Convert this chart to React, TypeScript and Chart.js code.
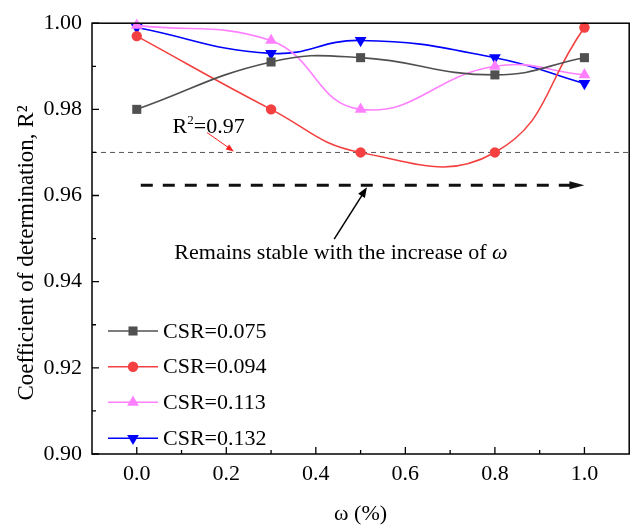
import React, { useEffect, useRef } from 'react';
import { Chart, registerables } from 'chart.js';

Chart.register(...registerables);

// ---- data ----
const omegaValues = [0, 0.3, 0.5, 0.8, 1.0];
const csr075 = [0.98, 0.991, 0.992, 0.988, 0.992];
const csr094 = [0.997, 0.98, 0.97, 0.97, 0.999];
const csr113 = [0.9995, 0.996, 0.98, 0.99, 0.988];
const csr132 = [0.999, 0.993, 0.996, 0.992, 0.986];
const seriesLabels = ['CSR=0.075', 'CSR=0.094', 'CSR=0.113', 'CSR=0.132'];
const xTickValues = [0, 0.2, 0.4, 0.6, 0.8, 1.0];
const yTickValues = [0.9, 0.92, 0.94, 0.96, 0.98, 1.0];
const xRange = [-0.1, 1.1];
const yRange = [0.9, 1.0];
const thresholdR2 = 0.97;
const trendArrow = { x0: 0.009, x1: 1.0, y: 0.9624 };
const r2Label = { x: 0.08, y: 0.9746 };
const r2Arrow = { x0: 0.157, y0: 0.9746, x1: 0.217, y1: 0.9702 };
const stableLabel = { x: 0.084, y: 0.9453, text: 'Remains stable with the increase of ' };
const stableArrow = { x0: 0.441, y0: 0.9499, x1: 0.514, y1: 0.9619 };

const FONT = "'Liberation Serif', 'Times New Roman', serif";
const colors = ['#505050', '#f44040', '#ff80ff', '#0000ff'];
const pointStyles = ['rect', 'circle', 'triangle', 'triangle'];
const pointRot = [0, 0, 0, 180];
const pointRadii = [6.4, 5.2, 6.8, 6.8];

function drawMarker(ctx: CanvasRenderingContext2D, style: string, rot: number, r: number, x: number, y: number, color: string) {
  ctx.save();
  ctx.fillStyle = color;
  ctx.beginPath();
  if (style === 'rect') {
    const s = r * Math.SQRT1_2;
    ctx.rect(x - s, y - s, 2 * s, 2 * s);
  } else if (style === 'circle') {
    ctx.arc(x, y, r, 0, Math.PI * 2);
  } else {
    let rad = (rot * Math.PI) / 180;
    ctx.moveTo(x + Math.sin(rad) * r, y - Math.cos(rad) * r);
    rad += (2 * Math.PI) / 3;
    ctx.lineTo(x + Math.sin(rad) * r, y - Math.cos(rad) * r);
    rad += (2 * Math.PI) / 3;
    ctx.lineTo(x + Math.sin(rad) * r, y - Math.cos(rad) * r);
    ctx.closePath();
  }
  ctx.fill();
  ctx.restore();
}

function arrowHead(ctx: CanvasRenderingContext2D, x0: number, y0: number, x1: number, y1: number, len: number, half: number, color: string) {
  const a = Math.atan2(y1 - y0, x1 - x0);
  ctx.save();
  ctx.fillStyle = color;
  ctx.beginPath();
  ctx.moveTo(x1, y1);
  ctx.lineTo(x1 - len * Math.cos(a) + half * Math.sin(a), y1 - len * Math.sin(a) - half * Math.cos(a));
  ctx.lineTo(x1 - len * Math.cos(a) - half * Math.sin(a), y1 - len * Math.sin(a) + half * Math.cos(a));
  ctx.closePath();
  ctx.fill();
  ctx.restore();
}

const annotationPlugin = {
  id: 'annots',
  beforeDatasetsDraw(chart: any) {
    const { ctx, chartArea } = chart;
    const xs = chart.scales.x;
    const ys = chart.scales.y;
    ctx.save();
    // threshold dashed line
    const yt = ys.getPixelForValue(thresholdR2);
    ctx.strokeStyle = '#555555';
    ctx.lineWidth = 1;
    ctx.setLineDash([5, 4]);
    ctx.beginPath();
    ctx.moveTo(chartArea.left, yt);
    ctx.lineTo(chartArea.right, yt);
    ctx.stroke();
    // trend arrow
    const ty = ys.getPixelForValue(trendArrow.y);
    const tx0 = xs.getPixelForValue(trendArrow.x0);
    const tx1 = xs.getPixelForValue(trendArrow.x1);
    ctx.strokeStyle = '#111111';
    ctx.lineWidth = 3;
    ctx.setLineDash([12, 10]);
    ctx.beginPath();
    ctx.moveTo(tx0, ty);
    ctx.lineTo(tx1 - 12, ty);
    ctx.stroke();
    ctx.setLineDash([]);
    arrowHead(ctx, tx0, ty, tx1, ty, 15, 4, '#111111');
    // R2 label
    ctx.fillStyle = '#000';
    ctx.textBaseline = 'alphabetic';
    ctx.textAlign = 'left';
    let lx = xs.getPixelForValue(r2Label.x);
    const ly = ys.getPixelForValue(r2Label.y);
    ctx.font = `22px ${FONT}`;
    ctx.fillText('R', lx, ly);
    lx += ctx.measureText('R').width;
    ctx.font = `13px ${FONT}`;
    ctx.fillText('2', lx, ly - 9);
    lx += ctx.measureText('2').width;
    ctx.font = `22px ${FONT}`;
    ctx.fillText('=0.97', lx, ly);
    // red arrow
    const ax0 = xs.getPixelForValue(r2Arrow.x0);
    const ay0 = ys.getPixelForValue(r2Arrow.y0);
    const ax1 = xs.getPixelForValue(r2Arrow.x1);
    const ay1 = ys.getPixelForValue(r2Arrow.y1);
    ctx.strokeStyle = '#ff2020';
    ctx.lineWidth = 1;
    ctx.beginPath();
    ctx.moveTo(ax0, ay0);
    ctx.lineTo(ax1 - 4, ay1 - 3);
    ctx.stroke();
    arrowHead(ctx, ax0, ay0, ax1, ay1, 8, 3, '#ff2020');
    // stable label
    const sx = xs.getPixelForValue(stableLabel.x);
    const sy = ys.getPixelForValue(stableLabel.y);
    ctx.font = `22px ${FONT}`;
    ctx.fillStyle = '#000';
    ctx.fillText(stableLabel.text, sx, sy);
    const w = ctx.measureText(stableLabel.text).width;
    ctx.font = `italic 22px ${FONT}`;
    ctx.fillText('ω', sx + w, sy);
    // black arrow
    const bx0 = xs.getPixelForValue(stableArrow.x0);
    const by0 = ys.getPixelForValue(stableArrow.y0);
    const bx1 = xs.getPixelForValue(stableArrow.x1);
    const by1 = ys.getPixelForValue(stableArrow.y1);
    ctx.strokeStyle = '#000';
    ctx.lineWidth = 1.5;
    ctx.beginPath();
    ctx.moveTo(bx0, by0);
    ctx.lineTo(bx1 - 3, by1 + 5);
    ctx.stroke();
    arrowHead(ctx, bx0, by0, bx1, by1, 10, 4, '#000');
    ctx.restore();
  },
  afterDraw(chart: any) {
    const { ctx, chartArea } = chart;
    const xs = chart.scales.x;
    const ys = chart.scales.y;
    ctx.save();
    // frame
    ctx.strokeStyle = '#000';
    ctx.lineWidth = 1.5;
    ctx.strokeRect(chartArea.left, chartArea.top, chartArea.right - chartArea.left, chartArea.bottom - chartArea.top);
    // inward ticks
    ctx.lineWidth = 1.3;
    ctx.beginPath();
    for (let i = 0; i < xTickValues.length; i++) {
      const v = xTickValues[i];
      const px = xs.getPixelForValue(v);
      ctx.moveTo(px, chartArea.bottom);
      ctx.lineTo(px, chartArea.bottom - 7);
      const mv = v + 0.1;
      if (mv < xRange[1]) {
        const mpx = xs.getPixelForValue(mv);
        ctx.moveTo(mpx, chartArea.bottom);
        ctx.lineTo(mpx, chartArea.bottom - 4);
      }
    }
    for (let i = 0; i < yTickValues.length; i++) {
      const v = yTickValues[i];
      const py = ys.getPixelForValue(v);
      ctx.moveTo(chartArea.left, py);
      ctx.lineTo(chartArea.left + 7, py);
      if (i < yTickValues.length - 1) {
        const mpy = ys.getPixelForValue(v + 0.01);
        ctx.moveTo(chartArea.left, mpy);
        ctx.lineTo(chartArea.left + 4, mpy);
      }
    }
    ctx.stroke();
    // legend
    const lx0 = chartArea.left + 16;
    const lx1 = chartArea.left + 66;
    const lmx = chartArea.left + 41;
    const rowY = [331, 366.7, 402.3, 438.3];
    ctx.font = `22px ${FONT}`;
    ctx.textBaseline = 'middle';
    ctx.textAlign = 'left';
    for (let i = 0; i < seriesLabels.length; i++) {
      const y = rowY[i];
      ctx.strokeStyle = colors[i];
      ctx.lineWidth = 1.6;
      ctx.beginPath();
      ctx.moveTo(lx0, y);
      ctx.lineTo(lx1, y);
      ctx.stroke();
      drawMarker(ctx, pointStyles[i], pointRot[i], pointRadii[i], lmx, y, colors[i]);
      ctx.fillStyle = '#000';
      ctx.fillText(seriesLabels[i], lx1 + 5, y + 1);
    }
    ctx.restore();
  },
};

export default function App() {
  const ref = useRef<HTMLCanvasElement | null>(null);
  useEffect(() => {
    if (!ref.current) return;
    const seriesData = [csr075, csr094, csr113, csr132];
    const chart = new Chart(ref.current, {
      type: 'line',
      data: {
        datasets: seriesData.map((arr, i) => ({
          label: seriesLabels[i],
          data: omegaValues.map((x, j) => ({ x, y: arr[j] })),
          borderColor: colors[i],
          backgroundColor: colors[i],
          borderWidth: 1.6,
          pointStyle: pointStyles[i] as any,
          pointRotation: pointRot[i],
          pointRadius: pointRadii[i],
          pointBorderWidth: 0,
          tension: 0.45,
          clip: false as any,
        })),
      },
      options: {
        responsive: false,
        animation: false,
        devicePixelRatio: 1,
        layout: { padding: { left: 0, top: 18, right: 3.5, bottom: 0 } },
        plugins: { legend: { display: false }, tooltip: { enabled: false } },
        scales: {
          x: {
            type: 'linear',
            min: xRange[0],
            max: xRange[1],
            grid: { display: false, drawTicks: false },
            border: { display: false },
            afterBuildTicks: (scale: any) => {
              scale.ticks = xTickValues.map((v) => ({ value: v }));
            },
            afterFit: (scale: any) => {
              scale.height = 74;
            },
            ticks: {
              padding: 7,
              color: '#000',
              font: { family: FONT, size: 22 },
              maxRotation: 0,
              autoSkip: false,
              callback: (v: any) => Number(v).toFixed(1),
            },
            title: {
              display: true,
              text: 'ω (%)',
              color: '#000',
              font: { family: FONT, size: 22 },
              padding: { top: 0, bottom: 1 },
            },
          },
          y: {
            type: 'linear',
            min: yRange[0],
            max: yRange[1],
            grid: { display: false, drawTicks: false },
            border: { display: false },
            afterBuildTicks: (scale: any) => {
              scale.ticks = yTickValues.map((v) => ({ value: v }));
            },
            afterFit: (scale: any) => {
              scale.width = 92;
            },
            ticks: {
              padding: 10,
              color: '#000',
              font: { family: FONT, size: 22 },
              autoSkip: false,
              callback: (v: any) => Number(v).toFixed(2),
            },
            title: {
              display: true,
              text: 'Coefficient of determination, R²     ',
              color: '#000',
              font: { family: FONT, size: 23 },
              padding: { top: 13, bottom: 0 },
            },
          },
        },
      },
      plugins: [annotationPlugin],
    });
    return () => chart.destroy();
  }, []);
  return (
    <div style={{ position: 'fixed', left: 0, top: 0, width: 636, height: 528, background: '#fff' }}>
      <canvas ref={ref} width={636} height={528} style={{ display: 'block' }} />
    </div>
  );
}
